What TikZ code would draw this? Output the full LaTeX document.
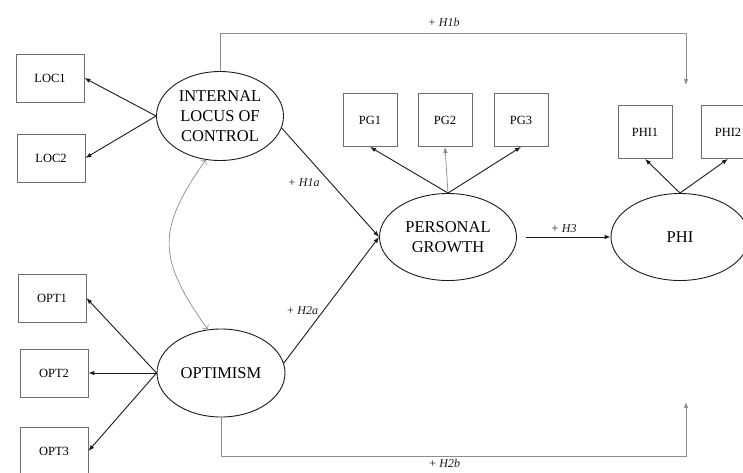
\documentclass[tikz,border=0pt]{standalone}
\usepackage{fontspec}
\setmainfont{Liberation Serif}
\usetikzlibrary{arrows.meta,shapes.geometric}
\definecolor{semInk}{HTML}{1A1A1A}
\definecolor{semGray}{HTML}{8C8C8C}
\definecolor{semFrame}{HTML}{6E6E6E}
\tikzset{
  sem latent/.style={ellipse, draw=semInk, line width=0.9pt, inner sep=0pt, align=center, font=\fontsize{16.5}{19.7}\selectfont},
  sem item/.style={rectangle, draw=semFrame, line width=0.8pt, minimum width=68pt, minimum height=48pt, inner sep=0pt, font=\fontsize{12.5}{14}\selectfont},
  sem square/.style={sem item, minimum width=54pt, minimum height=53pt},
  sem path/.style={draw=semInk, line width=0.9pt, -{Latex[length=6pt,width=4.5pt]}},
  sem light/.style={draw=semGray, line width=0.7pt, -{Latex[length=6pt,width=4.5pt]}},
  sem corr/.style={draw=semGray, line width=0.7pt, {Straight Barb[length=3.5pt,width=7pt]}-{Straight Barb[length=3.5pt,width=7pt]}},
  sem hyp/.style={font=\fontsize{12}{14}\selectfont\itshape, text=semInk},
}
\begin{document}
\begin{tikzpicture}[x=1pt,y=-1pt]
\useasboundingbox(0,0)rectangle(743,472);\clip(0,0)rectangle(743,472);
\node[sem latent,minimum width=127pt,minimum height=89pt](iloc)at(220,116){INTERNAL\\LOCUS OF\\CONTROL};
\node[sem latent,minimum width=128pt,minimum height=88pt](opt)at(221,373){OPTIMISM};
\node[sem latent,minimum width=137pt,minimum height=87pt](pg)at(448,237){PERSONAL\\GROWTH};
\node[sem latent,minimum width=138pt,minimum height=87pt](phi)at(680,237){PHI};
\foreach \n/\x/\y in {LOC1/50/78,LOC2/51/158,OPT1/52/298,OPT2/54/373,OPT3/54/451}{\node[sem item](\n)at(\x,\y){\n};}
\foreach \n/\x in {PG1/370,PG2/445,PG3/521}{\node[sem square](\n)at(\x,120){\n};}
\foreach \n/\x in {PHI1/645,PHI2/728}{\node[sem square](\n)at(\x,132){\n};}
\foreach \n in {LOC1,LOC2}{\draw[sem path](iloc.west)--(\n.east);}
\foreach \n in {OPT1,OPT2,OPT3}{\draw[sem path](opt.west)--(\n.east);}
\draw[sem path](pg.north)--(PG1.south);\draw[sem light](pg.north)--(PG2.south);\draw[sem path](pg.north)--(PG3.south);
\foreach \n in {PHI1,PHI2}{\draw[sem path](phi.north)--(\n.south);}
\draw[sem path](iloc.-11)--node[sem hyp,midway,left=7pt]{+ H1a}(pg.west);
\draw[sem path](opt.9)--node[sem hyp,pos=.42,left=2pt]{+ H2a}(pg.west);
\draw[sem path,shorten <=9pt](pg.east)--node[sem hyp,above=1pt]{+ H3}(phi.west);
\coordinate(h1bturn)at(686,33);\coordinate(h1bend)at(686,85);
\draw[sem light](iloc.north)|-node[sem hyp,pos=.74,above=3pt]{+ H1b}(h1bturn)--(h1bend);
\coordinate(h2bturn)at(686,456);\coordinate(h2bend)at(686,402);
\draw[sem light](opt.south)|-node[sem hyp,pos=.74,below=-1pt]{+ H2b}(h2bturn)--(h2bend);
\draw[sem corr](iloc.252)..controls +(-50,71) and +(-50,-71)..(opt.107);
\end{tikzpicture}
\end{document}
